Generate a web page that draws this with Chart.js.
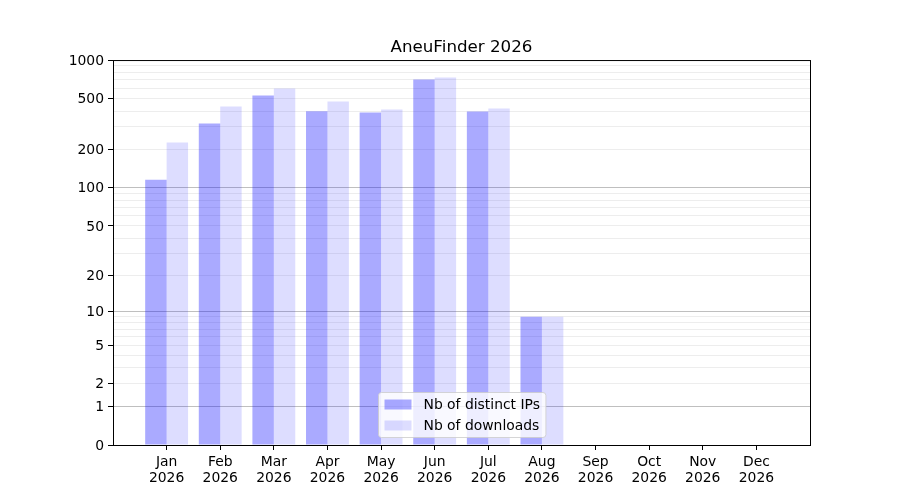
<!DOCTYPE html>
<html>
<head>
<meta charset="utf-8">
<title>AneuFinder 2026</title>
<script src="https://cdn.jsdelivr.net/npm/chart.js@4.4.1/dist/chart.umd.min.js"></script>
<style>
  html, body { margin: 0; padding: 0; background: #fff; }
  #wrap { width: 900px; height: 500px; }
</style>
</head>
<body>
<div id="wrap"><canvas id="chart"></canvas></div>
<script>
// values
const months = ['Jan', 'Feb', 'Mar', 'Apr', 'May', 'Jun', 'Jul', 'Aug', 'Sep', 'Oct', 'Nov', 'Dec'];
const year = '2026';
const distinctIPs = [116, 320, 529, 399, 390, 706, 397, 9, 0, 0, 0, 0];
const downloads = [227, 434, 600, 475, 411, 732, 419, 9, 0, 0, 0, 0];

// y axis: labelled ticks, all grid lines, darker grid lines
const yLabelled = [0, 1, 2, 5, 10, 20, 50, 100, 200, 500, 1000];
const yGrid = [0, 1, 2, 3, 4, 5, 6, 7, 8, 9, 10, 20, 30, 40, 50, 60, 70, 80, 90,
               100, 200, 300, 400, 500, 600, 700, 800, 900, 1000];
const yMajor = [1, 10, 100];

const ipLabel = 'Nb of distinct IPs';
const dlLabel = 'Nb of downloads';
const ipColor = 'rgba(0, 0, 255, 0.333)';
const dlColor = 'rgba(0, 0, 255, 0.133)';

Chart.defaults.font.family = '"DejaVu Sans", sans-serif';
Chart.defaults.color = '#000';

// log10(v + 1) scale, so that 0 sits on the axis
class Log1pScale extends Chart.LinearScale {
    static id = 'log1p';
    static defaults = Chart.LinearScale.defaults;

    configure() {
        super.configure();
        this._lo = Math.log10(this.min + 1);
        this._hi = Math.log10(this.max + 1);
    }
    buildTicks() {
        return yGrid.map(v => ({ value: v }));
    }
    getPixelForValue(v) {
        return this.getPixelForDecimal((Math.log10(v + 1) - this._lo) / (this._hi - this._lo));
    }
    getValueForPixel(p) {
        return Math.pow(10, this._lo + this.getDecimalForPixel(p) * (this._hi - this._lo)) - 1;
    }
}
Chart.register(Log1pScale);

// axes frame plus a boxed legend inside the plot, bottom centre
const frameAndLegend = {
    id: 'frameAndLegend',
    afterDatasetsDraw(chart) {
        const { ctx, chartArea: a } = chart;
        ctx.save();
        ctx.strokeStyle = '#000';
        ctx.lineWidth = 1;
        ctx.strokeRect(a.left + 0.5, a.top + 0.5, a.right - a.left, a.bottom - a.top);

        ctx.font = '13.9px "DejaVu Sans"';
        const items = [[ipLabel, ipColor], [dlLabel, dlColor]];
        const textW = Math.max(...items.map(it => ctx.measureText(it[0]).width));
        const w = 6 + 27 + 12 + textW + 6;
        const h = 45;
        const x0 = Math.round((a.left + a.right) / 2 - w / 2) + 0.5;
        const y0 = Math.round(a.bottom - 8 - h) + 0.5;
        ctx.beginPath();
        ctx.roundRect(x0, y0, w, h, 3);
        ctx.fillStyle = 'rgba(255, 255, 255, 0.8)';
        ctx.fill();
        ctx.strokeStyle = 'rgba(204, 204, 204, 0.8)';
        ctx.stroke();

        ctx.textBaseline = 'middle';
        items.forEach((it, i) => {
            const cy = y0 + 12 + i * 21;
            ctx.fillStyle = it[1];
            ctx.fillRect(x0 + 6, cy - 5, 27, 10);
            ctx.fillStyle = '#000';
            ctx.fillText(it[0], x0 + 45, cy + 1);
        });
        ctx.restore();
    }
};

new Chart(document.getElementById('chart'), {
    type: 'bar',
    data: {
        datasets: [
            {
                label: ipLabel,
                data: distinctIPs.map((v, i) => ({ x: i, y: v })),
                backgroundColor: ipColor,
                borderWidth: 0,
                categoryPercentage: 0.8,
                barPercentage: 1
            },
            {
                label: dlLabel,
                data: downloads.map((v, i) => ({ x: i, y: v })),
                backgroundColor: dlColor,
                borderWidth: 0,
                categoryPercentage: 0.8,
                barPercentage: 1
            }
        ]
    },
    options: {
        responsive: true,
        maintainAspectRatio: false,
        devicePixelRatio: 1,
        animation: false,
        layout: { padding: { left: 0, right: 90, top: 0, bottom: 0 } },
        plugins: {
            legend: { display: false },
            tooltip: { enabled: false },
            title: {
                display: true,
                text: 'AneuFinder 2026',
                fullSize: false,
                color: '#000',
                font: { size: 16.7, weight: 'normal', lineHeight: 1.2 },
                padding: { top: 38, bottom: 2 }
            }
        },
        scales: {
            x: {
                type: 'linear',
                min: -1,
                max: 12,
                offset: false,
                afterBuildTicks: s => { s.ticks = months.map((m, i) => ({ value: i })); },
                afterFit: s => { s.height = 55; },
                border: { display: false },
                grid: { offset: false, drawOnChartArea: false, tickLength: 5, tickColor: '#000', tickWidth: 1 },
                ticks: {
                    autoSkip: false,
                    maxRotation: 0,
                    padding: 4,
                    color: '#000',
                    font: { size: 13.9, lineHeight: 1.15 },
                    callback: v => [months[v], year]
                }
            },
            y: {
                type: 'log1p',
                min: 0,
                max: 1000,
                afterFit: s => { s.width = 113; },
                border: { display: false },
                grid: {
                    color: c => (c.tick && yMajor.includes(c.tick.value)) ? 'rgba(0,0,0,0.25)' : 'rgba(0,0,0,0.07)',
                    tickColor: c => (c.tick && yLabelled.includes(c.tick.value)) ? '#000' : 'rgba(0,0,0,0)',
                    tickLength: 5,
                    tickWidth: 1,
                    lineWidth: 1
                },
                ticks: {
                    autoSkip: false,
                    padding: 4,
                    labelOffset: 1,
                    color: '#000',
                    font: { size: 13.9 },
                    callback: v => yLabelled.includes(v) ? String(v) : ''
                }
            }
        }
    },
    plugins: [frameAndLegend]
});
</script>
</body>
</html>
